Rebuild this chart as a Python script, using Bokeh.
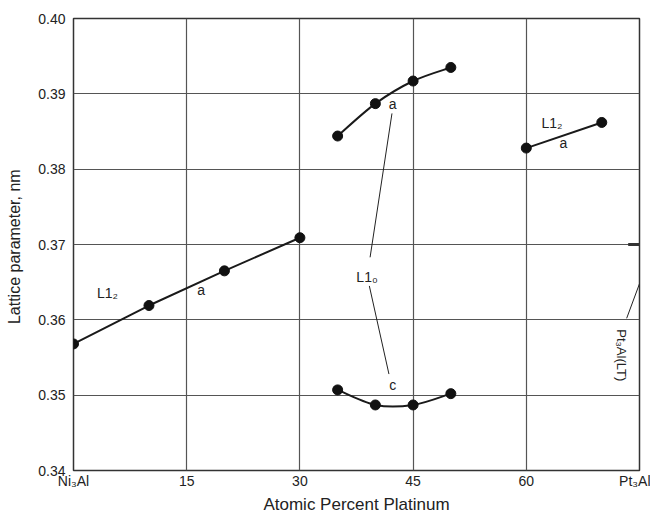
import numpy as np
from bokeh.plotting import figure
from bokeh.models import FixedTicker, Range1d
from bokeh.core.properties import value
from bokeh.embed import file_html
from bokeh.resources import INLINE

# ---- data ----
ni_x = [0, 10, 20, 30]
ni_a = [0.3568, 0.3619, 0.3665, 0.3709]

l10_x = [35, 40, 45, 50]
l10_a = [0.3844, 0.3887, 0.3917, 0.3935]
l10_c = [0.3507, 0.3487, 0.3487, 0.3502]

pt_x = [60, 70]
pt_a = [0.3828, 0.3862]

x_ticks = [0, 15, 30, 45, 60, 75]
x_tick_labels = ["Ni\u2083Al", "15", "30", "45", "60", "Pt\u2083Al"]
y_ticks = [0.34, 0.35, 0.36, 0.37, 0.38, 0.39, 0.40]
y_tick_labels = ["0.34", "0.35", "0.36", "0.37", "0.38", "0.39", "0.40"]

labels_text = ["L1\u2082", "a", "a", "c", "L1\u2080", "L1\u2082", "a"]
labels_x = [4.5, 16.9, 42.3, 42.3, 38.9, 63.4, 64.9]
labels_y = [0.3635, 0.3640, 0.3886, 0.3513, 0.3657, 0.3861, 0.3835]

lead_x0 = [42.2, 39.2, 73.3]
lead_y0 = [0.3874, 0.3645, 0.3602]
lead_x1 = [39.3, 41.8, 75.0]
lead_y1 = [0.3683, 0.3528, 0.3648]

lt_x = [73.5, 75.0]
lt_y = [0.3700, 0.3700]

FONT = "Liberation Sans"

p = figure(width=650, height=516, output_backend="svg", toolbar_location=None,
           x_range=Range1d(0, 75), y_range=Range1d(0.34, 0.40),
           min_border_left=73, min_border_right=11, min_border_top=18,
           min_border_bottom=41)

p.outline_line_color = "#333333"
p.outline_line_width = 1.5
p.background_fill_color = "white"
p.border_fill_color = "white"

p.xaxis.ticker = FixedTicker(ticks=x_ticks)
p.yaxis.ticker = FixedTicker(ticks=y_ticks)
p.xaxis.major_label_overrides = {t: l for t, l in zip(x_ticks, x_tick_labels)}
p.yaxis.major_label_overrides = {t: l for t, l in zip(y_ticks, y_tick_labels)}

for ax in (p.xaxis, p.yaxis):
    ax.axis_line_color = None
    ax.major_tick_line_color = None
    ax.minor_tick_line_color = None
    ax.major_tick_out = 0
    ax.major_tick_in = 0
    ax.major_label_text_font = FONT
    ax.major_label_text_font_size = "14px"
    ax.major_label_text_color = "#222222"
    ax.axis_label_text_font = FONT
    ax.axis_label_text_font_style = "normal"
    ax.axis_label_text_color = "#222222"

p.xaxis.axis_label = "Atomic Percent Platinum"
p.yaxis.axis_label = "Lattice  parameter, nm"
p.xaxis.axis_label_text_font_size = "17px"
p.yaxis.axis_label_text_font_size = "16px"
p.xaxis.major_label_standoff = 2
p.xaxis.axis_label_standoff = 3
p.yaxis.major_label_standoff = 8
p.yaxis.axis_label_standoff = 12

p.grid.grid_line_color = "#555555"
p.grid.grid_line_width = 1.2
p.grid.grid_line_alpha = 1.0

# smooth curve through points (Catmull-Rom -> cubic Bezier)
def smooth(px, py, **kw):
    X = np.array(px, float)
    Y = np.array(py, float)
    n = len(X)
    Xe = np.concatenate([[X[0]], X, [X[-1]]])
    Ye = np.concatenate([[Y[0]], Y, [Y[-1]]])
    x0, y0, x1, y1, cx0, cy0, cx1, cy1 = [], [], [], [], [], [], [], []
    for i in range(n - 1):
        j = i + 1
        x0.append(Xe[j]); y0.append(Ye[j])
        x1.append(Xe[j + 1]); y1.append(Ye[j + 1])
        cx0.append(Xe[j] + (Xe[j + 1] - Xe[j - 1]) / 6)
        cy0.append(Ye[j] + (Ye[j + 1] - Ye[j - 1]) / 6)
        cx1.append(Xe[j + 1] - (Xe[j + 2] - Xe[j]) / 6)
        cy1.append(Ye[j + 1] - (Ye[j + 2] - Ye[j]) / 6)
    p.bezier(x0=x0, y0=y0, x1=x1, y1=y1, cx0=cx0, cy0=cy0, cx1=cx1, cy1=cy1, **kw)

LINE = dict(line_color="#1a1a1a", line_width=2)

p.line(ni_x, ni_a, **LINE)
p.line(pt_x, pt_a, **LINE)
smooth(l10_x, l10_a, **LINE)
smooth(l10_x, l10_c, **LINE)

for xs, ys in ((ni_x, ni_a), (l10_x, l10_a), (l10_x, l10_c), (pt_x, pt_a)):
    p.scatter(xs, ys, size=10, fill_color="#111111", line_color="#111111")

p.segment(x0=lead_x0, y0=lead_y0, x1=lead_x1, y1=lead_y1,
          line_color="#222222", line_width=1)
p.line(lt_x, lt_y, line_color="#333333", line_width=3)

p.text(x=labels_x, y=labels_y, text=labels_text, text_font=value(FONT),
       text_font_size="14px", text_align="center", text_baseline="middle",
       text_color="#222222")

p.text(x=[72.6], y=[0.3553], text=["Pt\u2083Al(LT)"], angle=-np.pi / 2,
       text_font=value(FONT), text_font_size="13px", text_align="center",
       text_baseline="middle", text_color="#222222")

open("out.html", "w").write(file_html(p, INLINE))
